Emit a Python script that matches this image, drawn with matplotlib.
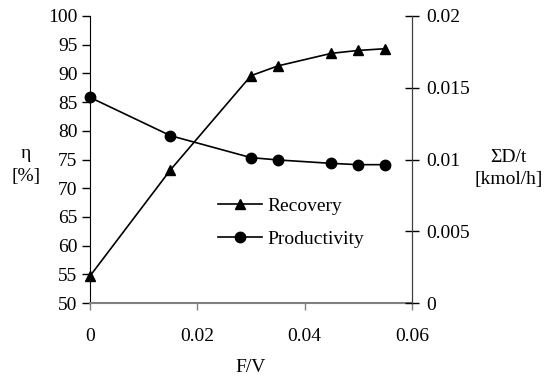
import matplotlib.pyplot as plt
from matplotlib.lines import Line2D

plt.rcParams["font.family"] = ["Liberation Serif", "DejaVu Serif"]
plt.rcParams["font.size"] = 14

# F/V ratio values
fv = [0, 0.015, 0.03, 0.035, 0.045, 0.05, 0.055]
# Recovery eta [%]
recovery = [54.7, 73.2, 89.6, 91.3, 93.5, 94.0, 94.3]
# Productivity sum D/t [kmol/h]
productivity = [0.01433, 0.01166, 0.01013, 0.00997, 0.00973, 0.00964, 0.00964]

fig = plt.figure(figsize=(5.5, 3.79), dpi=100)
ax = fig.add_axes([0.1636, 0.2005, 0.5855, 0.7573])
ax2 = ax.twinx()

ax.plot(fv, recovery, color="black", lw=1.2, marker="^", ms=7.5, clip_on=False)
ax2.plot(fv, productivity, color="black", lw=1.2, marker="o", ms=7.5, clip_on=False)

ax.set_xlim(0, 0.06)
ax.set_ylim(50, 100)
ax2.set_ylim(0, 0.02)
ax.set_xticks([0, 0.02, 0.04, 0.06])
ax.set_xticklabels(["0", "0.02", "0.04", "0.06"])
ax.set_yticks(range(50, 101, 5))
ax2.set_yticks([0, 0.005, 0.01, 0.015, 0.02])
ax2.set_yticklabels(["0", "0.005", "0.01", "0.015", "0.02"])

for a in (ax, ax2):
    a.spines["top"].set_visible(False)
ax.spines["bottom"].set_color("#808080")
ax.spines["bottom"].set_linewidth(1.5)
ax.spines["left"].set_color("black")
ax2.spines["right"].set_color("#404040")
ax2.spines["left"].set_visible(False)
ax2.spines["bottom"].set_visible(False)

ax.tick_params(axis="x", direction="out", length=5, width=1, color="#808080", pad=13)
ax.tick_params(axis="y", direction="out", length=6, width=1, pad=3)
ax2.tick_params(axis="y", direction="inout", length=10, width=1, pad=5)

ax.set_xlabel("F/V", labelpad=10)
fig.text(0.047, 0.565, "η\n[%]", ha="center", va="center", linespacing=1.5)
fig.text(0.925, 0.555, "ΣD/t\n[kmol/h]", ha="center", va="center", linespacing=1.4)

handles = [
    Line2D([], [], color="black", lw=1.2, marker="^", ms=7.5),
    Line2D([], [], color="black", lw=1.2, marker="o", ms=7.5),
]
ax2.legend(handles, ["Recovery", "Productivity"], loc="center left",
           bbox_to_anchor=(218 / 550, 0.413), bbox_transform=fig.transFigure,
           frameon=False, borderpad=0, borderaxespad=0, handlelength=2.27,
           handletextpad=0.26, labelspacing=0.8)

fig.savefig("out.png", dpi=100)
